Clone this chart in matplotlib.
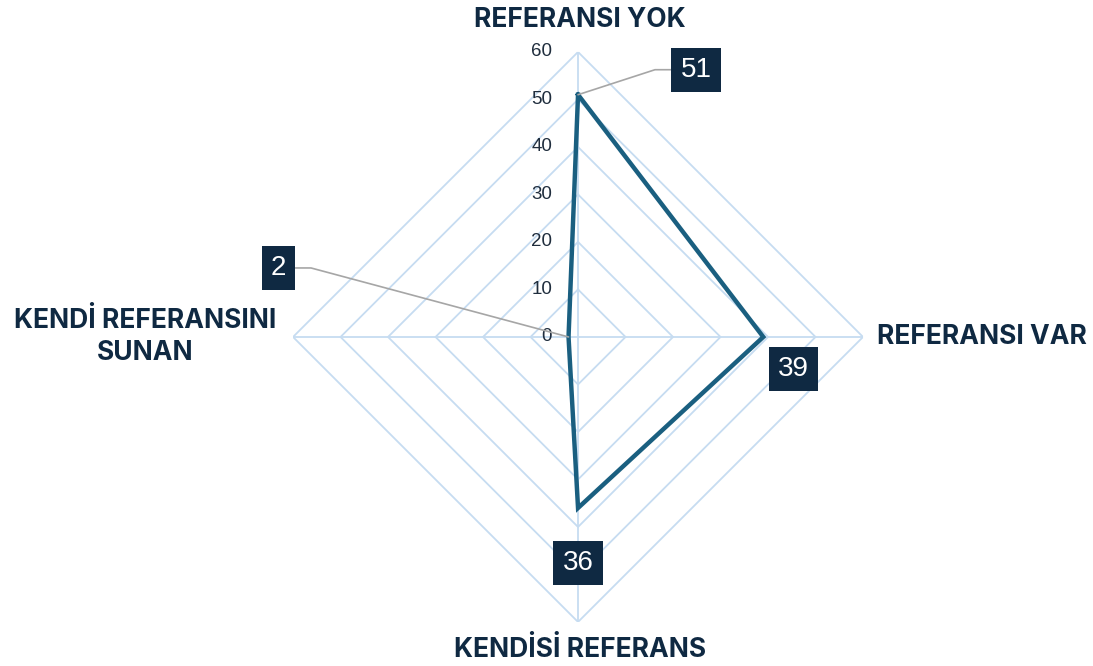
import numpy as np
import matplotlib
matplotlib.use('Agg')
import matplotlib.pyplot as plt

categories = ['REFERANSI YOK', 'REFERANSI VAR', 'KENDİSİ REFERANS', 'KENDİ REFERANSINI\nSUNAN']
values = [51, 39, 36, 2]
rings = [10, 20, 30, 40, 50, 60]
tick_labels = ['0', '10', '20', '30', '40', '50', '60']

navy = '#0f2942'
line_col = '#1a5f80'
grid_col = '#c6dcf1'

fig = plt.figure(figsize=(10.93, 6.66), dpi=100)
ax = fig.add_axes([0.2681, 0.0661, 0.5215, 0.8559], projection='polar')
ax.set_theta_zero_location('N')
ax.set_theta_direction(-1)
ax.set_ylim(0, 60)
ax.grid(False)
ax.spines['polar'].set_visible(False)
ax.set_xticks([])
ax.set_yticks([])

theta = np.linspace(0, 2 * np.pi, len(categories), endpoint=False)
theta_c = np.append(theta, theta[0])

# diamond grid
for r in rings:
    ax.plot(theta_c, [r] * len(theta_c), color=grid_col, lw=1.3, zorder=1)
for t in theta:
    ax.plot([t, t], [0, 60], color=grid_col, lw=1.3, zorder=1)

# radial tick labels
for i, lab in enumerate(tick_labels):
    ax.annotate(lab, xy=(0, i * 10), xytext=(-26, 0), textcoords='offset pixels',
                ha='right', va='center', fontsize=13.5, color='#1f2d3d',
                family='Liberation Sans')

vals_c = values + values[:1]
ax.plot(theta_c, vals_c, color=line_col, lw=3.2, zorder=3, solid_joinstyle='miter')

# data labels
offsets = [(118, 25), (30, -32), (0, -55), (-290, 69)]
conns = ['angle,angleA=0,angleB=18,rad=0', None, None, 'angle,angleA=0,angleB=-15,rad=0']
for t, v, off, cs in zip(theta, values, offsets, conns):
    kw = {}
    if cs:
        kw['arrowprops'] = dict(arrowstyle='-', color='#a6a6a6', lw=1.2,
                                connectionstyle=cs, shrinkA=0, shrinkB=0)
    ax.annotate(str(v), xy=(t, v), xytext=off, textcoords='offset pixels',
                ha='center', va='center', fontsize=20, color='white',
                family='Liberation Sans', zorder=5,
                bbox=dict(boxstyle='square,pad=0.33', fc=navy, ec='none'), **kw)

# category labels
cat_font = dict(fontsize=19, fontweight='bold', color=navy, family='Inter')
fig.text(580 / 1093, 1 - 20 / 666, categories[0], ha='center', va='center', **cat_font)
fig.text(877 / 1093, 1 - 337 / 666, categories[1], ha='left', va='center', **cat_font)
fig.text(580 / 1093, 1 - 650 / 666, categories[2], ha='center', va='center', **cat_font)
fig.text(145 / 1093, 1 - 337 / 666, categories[3], ha='center', va='center',
         linespacing=1.3, **cat_font)

fig.savefig('out.png', dpi=100)
